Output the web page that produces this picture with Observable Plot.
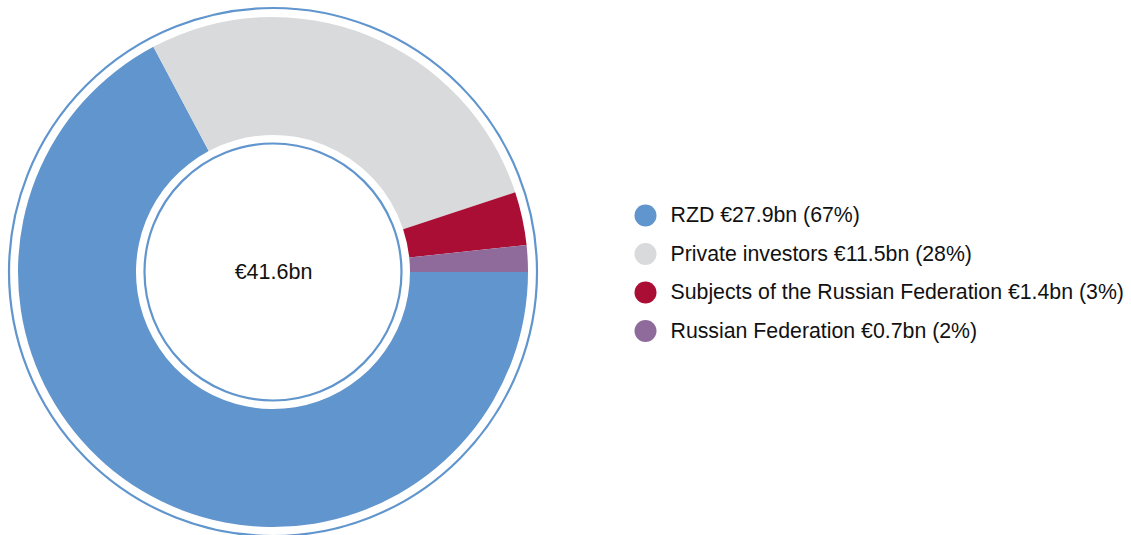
<!DOCTYPE html>
<html>
<head>
<meta charset="utf-8">
<script src="https://cdn.jsdelivr.net/npm/d3@7"></script>
<script src="https://cdn.jsdelivr.net/npm/@observablehq/plot@0.6"></script>
<style>
  html, body { margin: 0; padding: 0; background: #fff; }
  #chart svg { display: block; }
</style>
</head>
<body>
<div id="chart"></div>
<script>
const categories = ["RZD", "Private investors", "Subjects of the Russian Federation", "Russian Federation"];
const values = [27.9, 11.5, 1.4, 0.7];
const shares = [67, 28, 3, 2];
const colors = ["#6095cd", "#d9dadc", "#aa0e34", "#8f6b9c"];
const totalLabel = "€41.6bn";

const rows = categories.map((c, i) => ({
  category: c,
  value: values[i],
  label: `${c} €${values[i].toFixed(1)}bn (${shares[i]}%)`,
  rank: i
}));

const W = 1131, H = 535;
const cx = 273, cy = 272;
const rOuter = 255, rInner = 137, ringOuter = 264, ringInner = 128.5;
const font = "'Liberation Sans', Arial, Helvetica, sans-serif";

function donut(index, scales) {
  const g = d3.create("svg:g");
  const X = scales.x(cx), Y = scales.y(cy);
  const pie = d3.pie().sort(null).value(d => d.value)
    .startAngle(Math.PI / 2).endAngle(Math.PI / 2 + 2 * Math.PI);
  const arc = d3.arc().innerRadius(rInner).outerRadius(rOuter);
  g.attr("transform", `translate(${X},${Y})`);
  g.selectAll("path").data(pie(rows)).join("path")
    .attr("d", arc)
    .attr("fill", d => scales.color(d.data.category));
  g.append("circle").attr("r", ringOuter).attr("fill", "none")
    .attr("stroke", scales.color(categories[0])).attr("stroke-width", 2.2);
  g.append("circle").attr("r", ringInner).attr("fill", "none")
    .attr("stroke", scales.color(categories[0])).attr("stroke-width", 2.2);
  return g.node();
}

const legendX = 645, legendY0 = 215, legendStep = 38.5;

const plot = Plot.plot({
  width: W,
  height: H,
  margin: 0,
  style: { fontFamily: font, background: "#fff" },
  x: { domain: [0, W], range: [0, W], axis: null },
  y: { domain: [0, H], range: [0, H], axis: null },
  color: { domain: categories, range: colors },
  marks: [
    donut,
    Plot.text([totalLabel], { x: cx, y: cy, text: d => d, fontSize: 21.5, fill: "#111" }),
    Plot.dot(rows, { x: legendX, y: d => legendY0 + d.rank * legendStep, r: 11, fill: "category" }),
    Plot.text(rows, { x: legendX + 25, y: d => legendY0 + d.rank * legendStep, text: "label",
      textAnchor: "start", fontSize: 21.3, fill: "#111" })
  ]
});

document.getElementById("chart").appendChild(plot);
</script>
</body>
</html>
